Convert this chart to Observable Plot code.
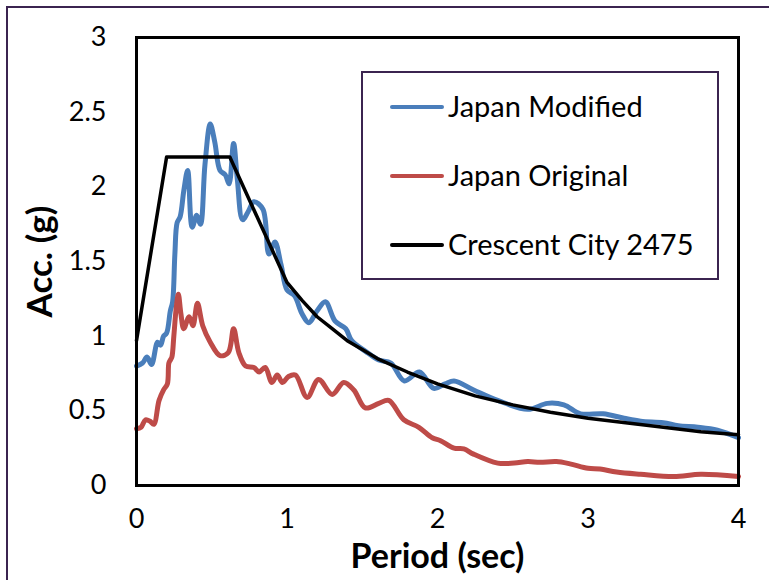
<!DOCTYPE html>
<html><head><meta charset="utf-8">
<script src="https://cdn.jsdelivr.net/npm/d3@7"></script>
<script src="https://cdn.jsdelivr.net/npm/@observablehq/plot@0.6"></script>
<style>
html,body{margin:0;padding:0;overflow:hidden;background:#fff;}
#wrap{position:relative;width:769px;height:580px;font-family:Lato,"Open Sans",sans-serif;}
#border{position:absolute;left:6px;top:6px;width:820px;height:640px;border:2px solid #3b2450;box-sizing:border-box;}
#legend{position:absolute;left:361px;top:71px;width:358px;height:209px;border:2px solid #3b2450;box-sizing:border-box;background:#fff;}
.sw{position:absolute;left:390px;width:54px;height:4px;border-radius:2px;}
.lt{position:absolute;left:448px;font-size:29px;line-height:34px;color:#000;white-space:nowrap;}
svg{position:absolute;left:0;top:0;}
</style></head>
<body><div id="wrap"><div id="border"></div></div>
<script>
const xTicks = [0, 1, 2, 3, 4];
const yTicks = [0, 0.5, 1, 1.5, 2, 2.5, 3];
const seriesNames = ["Japan Modified", "Japan Original", "Crescent City 2475"];
const seriesColors = ["#4a7ebb", "#be4b48", "#000000"];

const modT = [0,0.04,0.07,0.10,0.14,0.16,0.18,0.20,0.225,0.24,0.255,0.27,0.29,0.315,0.34,0.37,0.40,0.425,0.455,0.49,0.52,0.555,0.59,0.615,0.645,0.67,0.705,0.745,0.78,0.84,0.88,0.92,0.96,1.00,1.05,1.10,1.145,1.20,1.255,1.32,1.39,1.43,1.52,1.61,1.69,1.78,1.88,1.975,2.05,2.11,2.24,2.40,2.60,2.73,2.84,2.95,3.10,3.24,3.35,3.50,3.60,3.73,3.86,4.00];
const modA = [0.80,0.82,0.86,0.81,0.96,0.94,1.00,1.02,1.17,1.23,1.55,1.76,1.80,1.98,2.11,1.73,1.81,1.75,2.15,2.42,2.30,2.11,2.08,2.02,2.29,2.05,1.78,1.84,1.90,1.85,1.55,1.63,1.48,1.31,1.27,1.15,1.09,1.17,1.23,1.10,1.05,0.97,0.90,0.84,0.82,0.70,0.76,0.65,0.68,0.70,0.64,0.57,0.51,0.55,0.54,0.48,0.48,0.45,0.43,0.42,0.40,0.39,0.37,0.32];

const origT = [0,0.03,0.06,0.09,0.115,0.15,0.18,0.205,0.215,0.225,0.235,0.248,0.265,0.278,0.295,0.314,0.35,0.375,0.405,0.44,0.49,0.555,0.61,0.645,0.68,0.725,0.78,0.815,0.855,0.90,0.935,0.97,1.01,1.056,1.134,1.21,1.30,1.377,1.444,1.52,1.61,1.676,1.776,1.876,1.965,2.02,2.11,2.175,2.24,2.40,2.51,2.60,2.68,2.79,2.88,3.00,3.08,3.19,3.35,3.57,3.75,4.00];
const origA = [0.38,0.39,0.44,0.43,0.41,0.57,0.64,0.68,0.82,0.84,0.86,1.00,1.20,1.28,1.15,1.05,1.13,1.07,1.22,1.07,0.96,0.87,0.89,1.05,0.89,0.80,0.79,0.76,0.79,0.69,0.74,0.69,0.73,0.74,0.59,0.71,0.61,0.69,0.64,0.52,0.55,0.57,0.44,0.39,0.32,0.30,0.25,0.245,0.21,0.15,0.15,0.16,0.155,0.16,0.145,0.115,0.11,0.09,0.075,0.06,0.075,0.06];

const designT = [0,0.2,0.62,1.0,1.1,1.2,1.3,1.4,1.5,1.6,1.8,2.0,2.25,2.5,2.75,3.0,3.25,3.5,3.75,4.0];
const designA = [0.97,2.2,2.2,1.36,1.24,1.13,1.05,0.97,0.91,0.85,0.76,0.68,0.60,0.54,0.49,0.45,0.42,0.39,0.36,0.34];

const zip = (T, A) => T.map((t, i) => ({t, a: A[i]}));
const mod = zip(modT, modA), orig = zip(origT, origA), design = zip(designT, designA);

const chart = Plot.plot({
  width: 769, height: 580,
  marginLeft: 136, marginRight: 31, marginTop: 37, marginBottom: 95,
  style: {fontFamily: "Lato, 'Open Sans', sans-serif", color: "#000", background: "transparent"},
  x: {domain: [0, 4]},
  y: {domain: [0, 3]},
  marks: [
    Plot.axisX(xTicks, {tickSize: 0, tickPadding: 23, fontSize: 27, tickFormat: d => String(d), label: null}),
    Plot.axisY(yTicks, {tickSize: 0, tickPadding: 30, fontSize: 27, tickFormat: d => String(d), label: null}),
    Plot.line(mod, {x: "t", y: "a", stroke: seriesColors[0], strokeWidth: 5, curve: "catmull-rom"}),
    Plot.line(orig, {x: "t", y: "a", stroke: seriesColors[1], strokeWidth: 5, curve: "catmull-rom"}),
    Plot.line(design, {x: "t", y: "a", stroke: seriesColors[2], strokeWidth: 3.5}),
    Plot.frame({stroke: "#000", strokeWidth: 3}),
    Plot.text(["Period (sec)"], {frameAnchor: "bottom", lineAnchor: "middle", dy: 72, fontSize: 34, fontWeight: "bold"}),
    Plot.text(["Acc. (g)"], {frameAnchor: "left", textAnchor: "middle", lineAnchor: "middle", dx: -96, rotate: -90, fontSize: 35, fontWeight: "bold"})
  ]
});
const wrap = document.getElementById("wrap");
wrap.appendChild(chart);

const legend = document.createElement("div");
legend.id = "legend";
wrap.appendChild(legend);
const rowsY = [107, 176, 245];
seriesNames.forEach((name, i) => {
  const sw = document.createElement("div");
  sw.className = "sw";
  sw.style.top = (rowsY[i] - 2) + "px";
  sw.style.background = seriesColors[i];
  wrap.appendChild(sw);
  const lt = document.createElement("div");
  lt.className = "lt";
  lt.style.top = (rowsY[i] - 18) + "px";
  lt.textContent = name;
  wrap.appendChild(lt);
});
</script>
</body></html>
